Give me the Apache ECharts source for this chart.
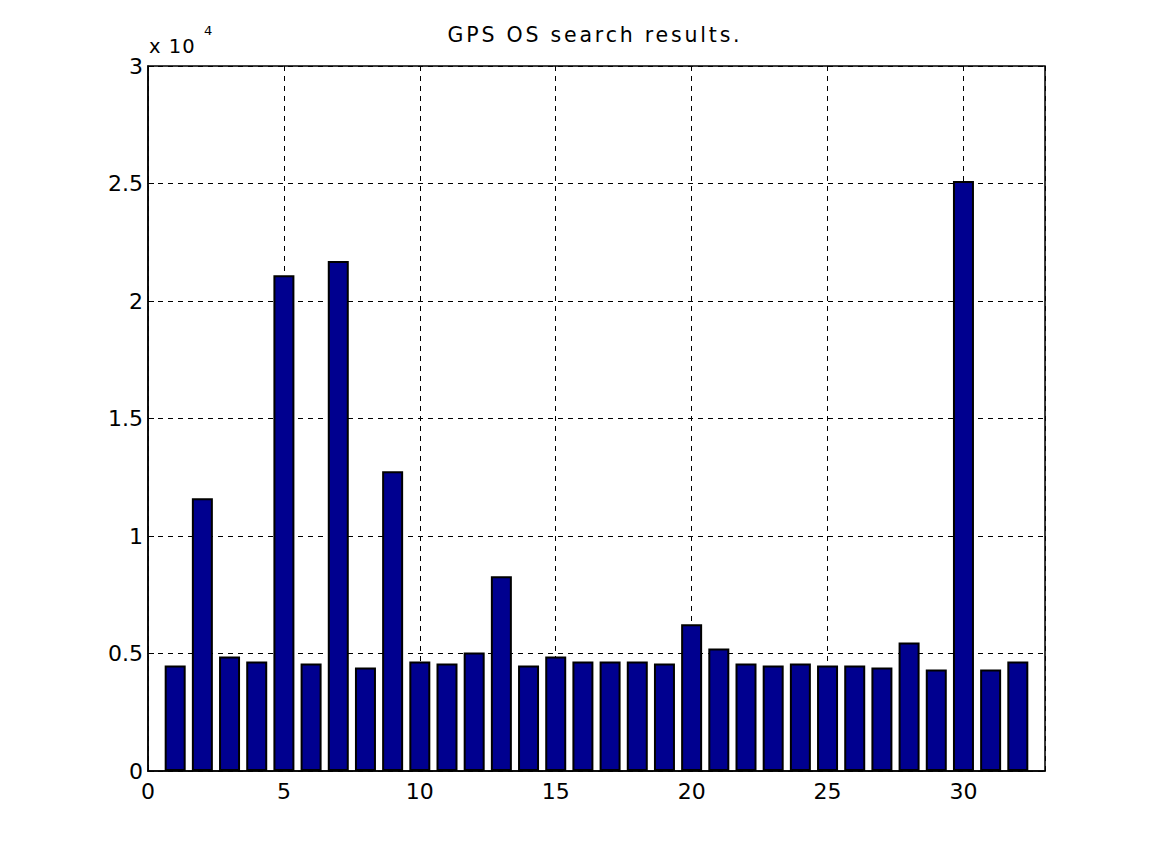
<!DOCTYPE html>
<html>
<head>
<meta charset="utf-8">
<script src="https://cdn.jsdelivr.net/npm/echarts@6/dist/echarts.min.js"></script>
<style>
html,body{margin:0;padding:0;background:#fff;}
#c{width:1154px;height:866px;}
#c text[style*="20.5px"]{letter-spacing:2.8px;}
#c text[style*="19.5px"]{letter-spacing:1px;}
</style>
</head>
<body>
<div id="c"></div>
<script>
const positions = [1,2,3,4,5,6,7,8,9,10,11,12,13,14,15,16,17,18,19,20,21,22,23,24,25,26,27,28,29,30,31,32];
const values = [4490,11610,4870,4660,21100,4570,21700,4400,12760,4660,4570,5040,8290,4490,4870,4660,4660,4660,4570,6240,5210,4570,4490,4570,4490,4490,4400,5470,4320,25110,4320,4660];
const titleText = 'GPS OS search results.';
const FONT = 'DejaVu Sans';

const chart = echarts.init(document.getElementById('c'), null, {renderer: 'svg'});
const gridDash = {color: '#000', width: 1, type: [5, 5]};
chart.setOption({
  animation: false,
  backgroundColor: '#fff',
  title: [{
    text: titleText, left: 590, top: 19, textAlign: 'center',
    textStyle: {fontFamily: FONT, fontSize: 20.5, fontWeight: 'normal', color: '#000'}
  }, {
    text: 'x 10', left: 149, top: 36, padding: 0,
    textStyle: {fontFamily: FONT, fontSize: 19.5, fontWeight: 'normal', color: '#000'}
  }, {
    text: '4', left: 204, top: 24, padding: 0,
    textStyle: {fontFamily: FONT, fontSize: 13, fontWeight: 'normal', color: '#000'}
  }],
  grid: {left: 148, right: 109, top: 66, bottom: 95, show: true, borderColor: '#000', borderWidth: 1.5, backgroundColor: 'transparent'},
  xAxis: {
    type: 'value', min: 0, max: 33, interval: 5,
    axisLine: {show: true, lineStyle: {color: '#000', width: 1.5}},
    axisTick: {show: true, inside: true, length: 6, lineStyle: {color: '#000'}},
    axisLabel: {fontFamily: FONT, fontSize: 22, color: '#000', margin: 9, showMaxLabel: false,
      formatter: v => (v % 5 === 0 ? String(v) : '')},
    splitLine: {show: true, lineStyle: gridDash}
  },
  yAxis: {
    type: 'value', min: 0, max: 30000, interval: 5000,
    axisLine: {show: true, lineStyle: {color: '#000', width: 1.5}},
    axisTick: {show: true, inside: true, length: 6, lineStyle: {color: '#000'}},
    axisLabel: {fontFamily: FONT, fontSize: 22, color: '#000', margin: 5,
      formatter: v => String(v / 10000)},
    splitLine: {show: true, lineStyle: gridDash}
  },
  series: [{
    type: 'bar',
    data: positions.map((p, i) => [p, values[i]]),
    barWidth: 21,
    itemStyle: {color: '#00008f', borderColor: '#000', borderWidth: 2}
  }]
});
</script>
</body>
</html>
